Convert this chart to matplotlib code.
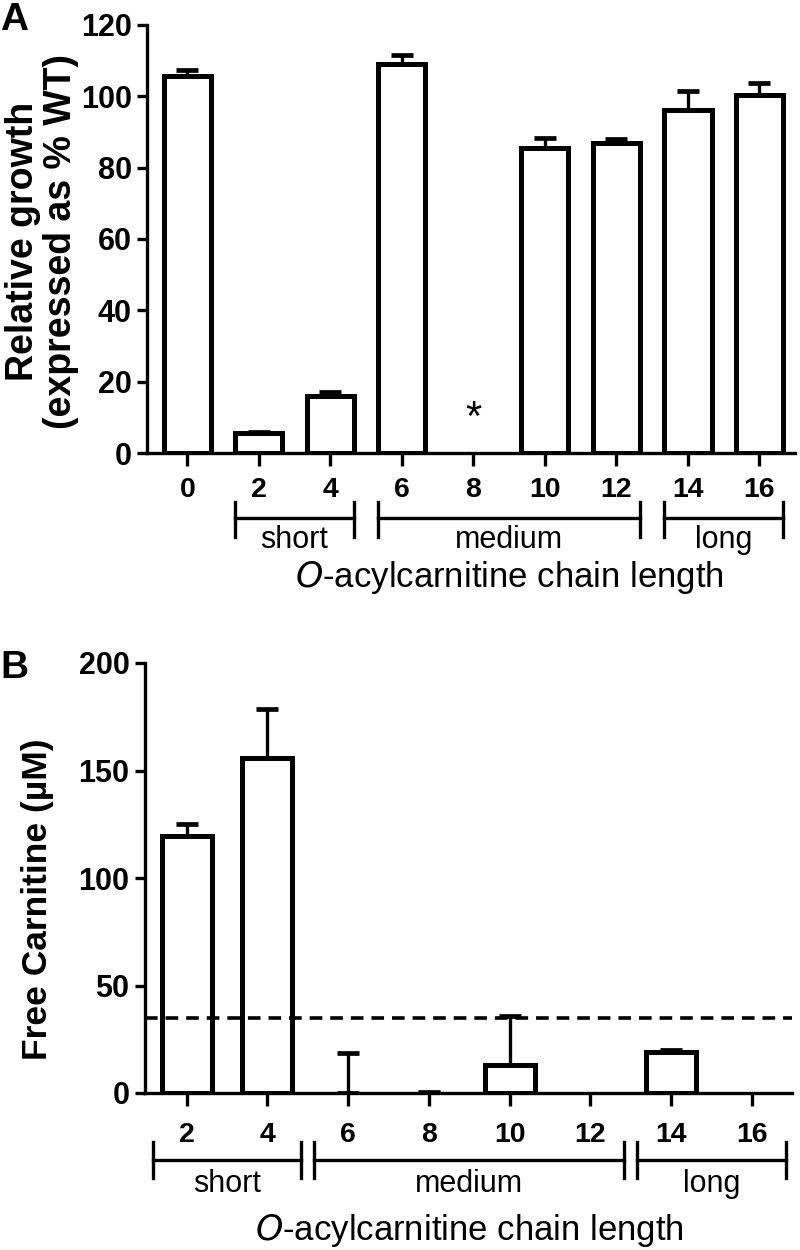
import matplotlib
matplotlib.use("Agg")
import matplotlib.pyplot as plt
import numpy as np
from matplotlib import rc

rc("font", **{"family": "Liberation Sans", "size": 20})

# panel A: relative growth per chain length
a_lengths = ["0", "2", "4", "6", "8", "10", "12", "14", "16"]
a_growth = [105.7, 5.6, 15.9, 109.0, 0.0, 85.6, 87.0, 96.2, 100.4]
a_err = [1.7, 0.3, 1.1, 2.6, 0.0, 2.8, 1.1, 5.3, 3.4]

# panel B: free carnitine per chain length
b_lengths = ["2", "4", "6", "8", "10", "12", "14", "16"]
b_carnitine = [119.7, 156.0, 0.0, 0.0, 13.0, 0.0, 19.0, 0.0]
b_err = [5.6, 22.6, 18.5, 0.5, 22.7, 0.0, 1.0, 0.0]
b_threshold = 35

# chain length groups: (label, first index, last index) per panel
a_groups = [("short", 1, 2), ("medium", 3, 6), ("long", 7, 8)]
b_groups = [("short", 0, 1), ("medium", 2, 5), ("long", 6, 7)]

xlabel = r"$\it{O}$-acylcarnitine chain length"


def style_axes(ax, pad_x):
    for side in ["top", "right"]:
        ax.spines[side].set_visible(False)
    for side in ["left", "bottom"]:
        ax.spines[side].set_linewidth(2.4)
    ax.tick_params(axis="x", length=9, width=2.4, pad=pad_x, labelsize=20.5)
    ax.tick_params(axis="y", length=7, width=2.4, pad=4, labelsize=22)
    for lab in ax.get_xticklabels() + ax.get_yticklabels():
        lab.set_fontweight("bold")


def draw_bars(ax, values, errs, width):
    x = np.arange(len(values))
    vals = np.array(values)
    errs = np.array(errs)
    nz = vals > 0
    ax.bar(x[nz], vals[nz], width=width, color="white", edgecolor="black",
           linewidth=3.6, zorder=3)
    m = errs > 0
    ax.errorbar(x[m], vals[m], yerr=[np.zeros(m.sum()), errs[m]], fmt="none",
                ecolor="black", elinewidth=2.4, capsize=8, capthick=3.4, zorder=2)
    return x


def draw_groups(ax, groups, half, y_line, y_tick0, y_tick1, y_text, gap):
    tr = ax.get_xaxis_transform()
    for name, i0, i1 in groups:
        x0 = i0 - half + gap
        x1 = i1 + half - gap
        ax.plot([x0, x1], [y_line, y_line], color="black", lw=2.4,
                transform=tr, clip_on=False)
        for xx in (x0, x1):
            ax.plot([xx, xx], [y_tick0, y_tick1], color="black", lw=2.4,
                    transform=tr, clip_on=False)
        ax.text((x0 + x1) / 2, y_text, name, transform=tr, ha="center",
                va="baseline", fontsize=22)


fig = plt.figure(figsize=(8, 12.5), dpi=100)

# ---- panel A ----
ax_a = fig.add_axes([0.184, 0.6376, 0.81, 0.3424])
xa = draw_bars(ax_a, a_growth, a_err, 0.66)
ax_a.set_xlim(-0.56, 8.5)
ax_a.set_ylim(0, 120)
ax_a.set_yticks(np.arange(0, 121, 20))
ax_a.set_xticks(xa)
ax_a.set_xticklabels(a_lengths)
style_axes(ax_a, 8)
ax_a.text(4, 6.5, "*", ha="center", va="baseline", fontsize=30)
fig.text(0.0525, 0.807, "Relative growth\n(expressed as % WT)", fontsize=27,
         fontweight="bold", linespacing=1.1, rotation=90,
         ha="center", va="center", multialignment="center")
draw_groups(ax_a, a_groups, 0.5, -0.152, -0.114, -0.196, -0.222, 0.17)
ax_a.text(4.5, -0.313, xlabel, transform=ax_a.get_xaxis_transform(),
          ha="center", va="baseline", fontsize=25)
fig.text(0.0, 0.984, "A", fontsize=28, fontweight="bold", va="center")

# ---- panel B ----
ax_b = fig.add_axes([0.181, 0.1256, 0.809, 0.344])
xb = draw_bars(ax_b, b_carnitine, b_err, 0.62)
ax_b.axhline(b_threshold, color="black", lw=2.6, ls=(0, (3.5, 2.2)), zorder=4)
ax_b.set_xlim(-0.52, 7.5)
ax_b.set_ylim(0, 200)
ax_b.set_yticks(np.arange(0, 201, 50))
ax_b.set_xticks(xb)
ax_b.set_xticklabels(b_lengths)
style_axes(ax_b, 12)
fig.text(0.0475, 0.281, "Free Carnitine (\u00b5M)", fontsize=25.5,
         fontweight="bold", rotation=90, ha="center", va="center")
draw_groups(ax_b, b_groups, 0.5, -0.156, -0.114, -0.198, -0.230, 0.08)
ax_b.text(3.5, -0.342, xlabel, transform=ax_b.get_xaxis_transform(),
          ha="center", va="baseline", fontsize=25)
fig.text(0.0, 0.466, "B", fontsize=28, fontweight="bold", va="center")

fig.savefig("out.png", dpi=100)
